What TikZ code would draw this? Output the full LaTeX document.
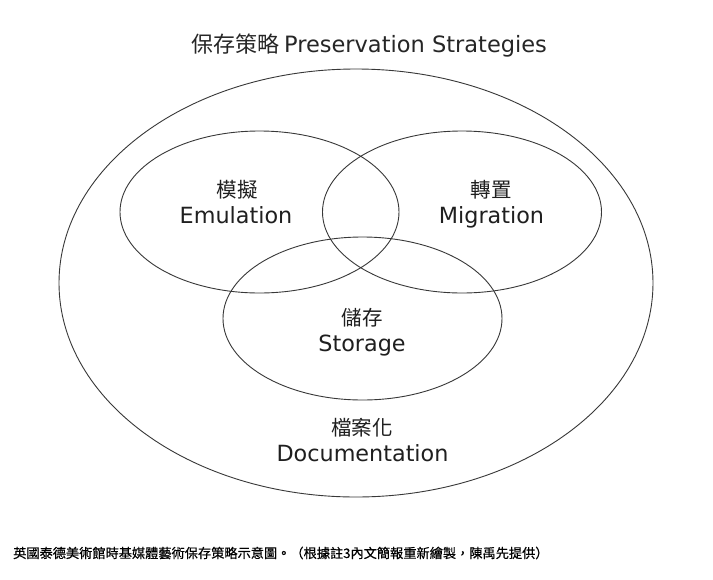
\documentclass[tikz,border=0pt]{standalone}
\usepackage{fontspec}
\setmainfont{Noto Sans CJK TC}
\newfontfamily\cjk{Noto Sans CJK TC}
\newfontfamily\lat{DejaVu Sans}
\newfontfamily\capfont[FakeBold=0.5]{Noto Sans CJK TC}
\begin{document}
\begin{tikzpicture}[x=1pt,y=-1pt,
  ring/.style={draw=black!78,line width=0.9pt},
  lblzh/.style={text=black!88,font=\cjk\fontsize{20.5}{24}\selectfont,anchor=base,inner sep=0pt},
  lblen/.style={text=black!88,font=\lat\fontsize{22.3}{26}\selectfont,anchor=base,inner sep=0pt},
  ttl/.style={text=black!85,font=\fontsize{22.5}{26}\selectfont,anchor=base,inner sep=0pt},
  captext/.style={text=black,font=\capfont\fontsize{13.2}{15}\selectfont,anchor=base west,inner sep=0pt}]
\useasboundingbox (0,0) rectangle (713,579);
\fill[white] (0,0) rectangle (713,579);
% rings
\draw[ring] (356,283) ellipse [x radius=297pt, y radius=214pt];
\draw[ring] (259.5,212) ellipse [x radius=139.5pt, y radius=81pt];
\draw[ring] (462,212) ellipse [x radius=139.5pt, y radius=81pt];
\draw[ring] (362.5,318.5) ellipse [x radius=139.5pt, y radius=81.5pt];
% title
\node[ttl] (title) at (369,52) {{\cjk\fontsize{22}{26}\selectfont 保存策略} {\lat Preservation Strategies}};
% labels
\node[lblzh] (emuzh) at (237,197) {模擬};
\node[lblen] (emuen) at (236,223) {Emulation};
\node[lblzh] (migzh) at (491,197) {轉置};
\node[lblen] (migen) at (491.5,223) {Migration};
\node[lblzh] (stozh) at (362,325) {儲存};
\node[lblen] (stoen) at (362,351) {Storage};
\node[lblzh] (doczh) at (362,435) {檔案化};
\node[lblen] (docen) at (362.5,461) {Documentation};
% caption
\node[captext] (caption) at (13,558) {英國泰德美術館時基媒體藝術保存策略示意圖。（根據註3內文簡報重新繪製，陳禹先提供）};
\end{tikzpicture}
\end{document}
